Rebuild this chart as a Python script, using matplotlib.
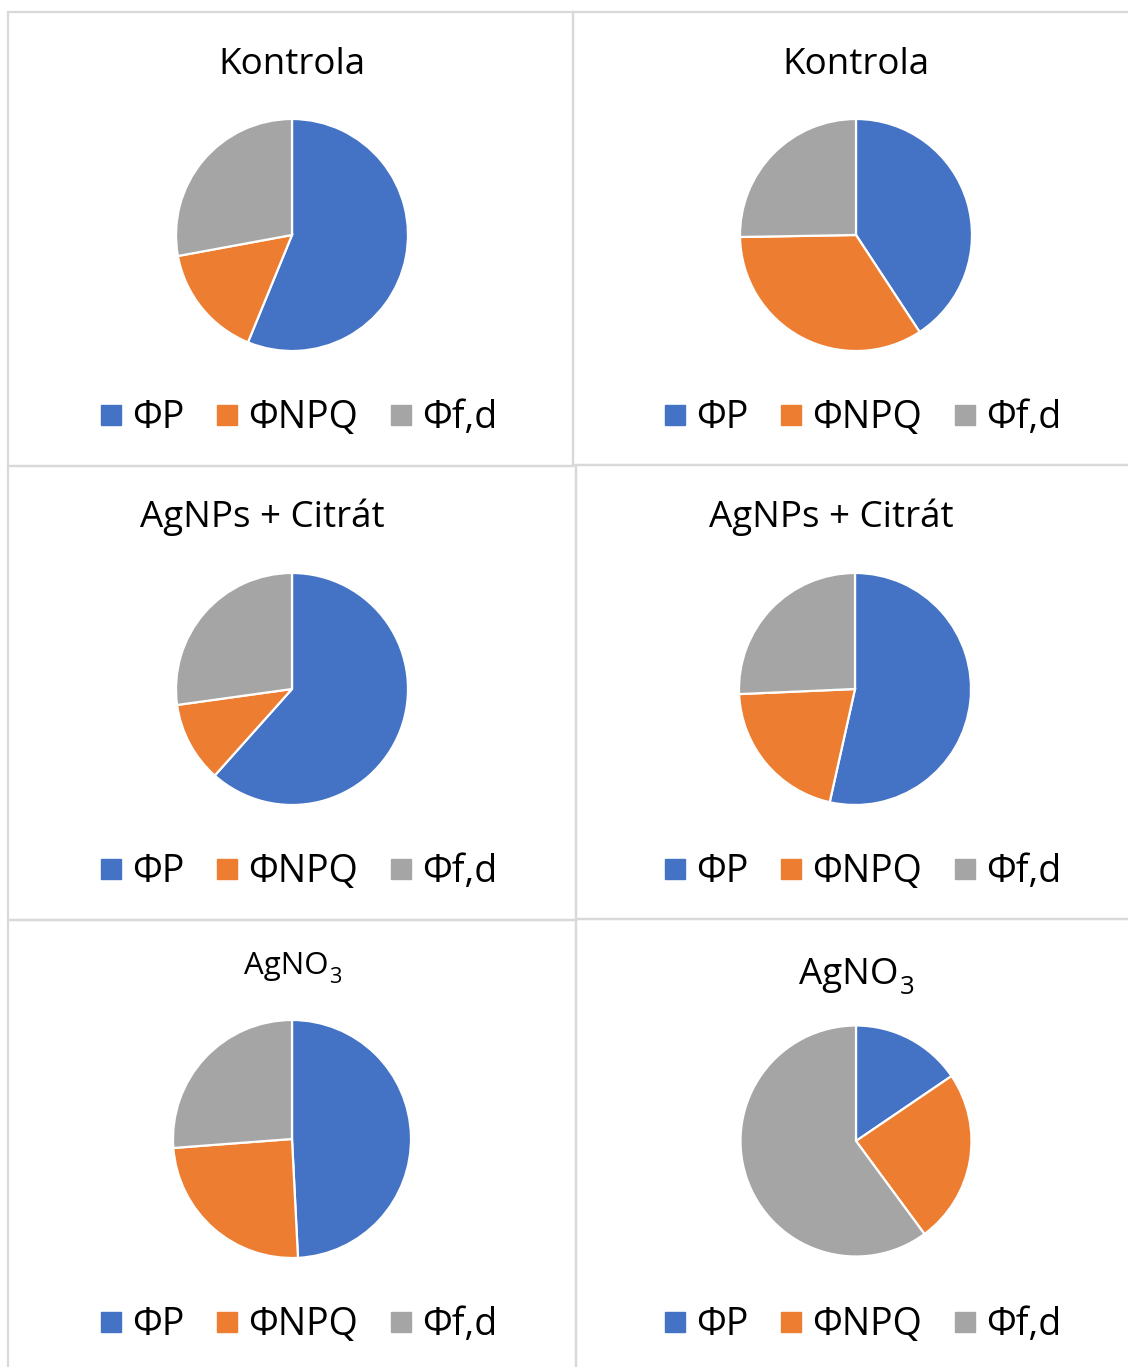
import matplotlib
matplotlib.use("Agg")
import matplotlib.pyplot as plt
from matplotlib.lines import Line2D
from matplotlib.patches import Rectangle

plt.rcParams['font.family'] = ['Open Sans', 'DejaVu Sans']

categories = ['ΦP', 'ΦNPQ', 'Φf,d']
colors = ['#4472C4', '#ED7D31', '#A5A5A5']

# (main text, subscript)
titles = [('Kontrola', ''), ('Kontrola', ''), ('AgNPs + Citrát', ''), ('AgNPs + Citrát', ''),
          ('AgNO', '3'), ('AgNO', '3')]
kontrola_1 = [56.2, 15.9, 27.9]
kontrola_2 = [40.8, 34.0, 25.3]
citrat_1 = [61.6, 11.2, 27.2]
citrat_2 = [53.5, 20.8, 25.7]
agno3_1 = [49.2, 24.6, 26.2]
agno3_2 = [15.5, 24.4, 60.1]
series = [kontrola_1, kontrola_2, citrat_1, citrat_2, agno3_1, agno3_2]

W, H = 1128, 1367
fig = plt.figure(figsize=(W / 100, H / 100), dpi=100)

# panel boxes (x0, y0, x1, y1) in pixels, top-left origin
boxes = [(8, 12, 573, 466), (573, 12, 1140, 465),
         (8, 466, 576, 920), (576, 465, 1140, 919),
         (8, 920, 576, 1380), (576, 919, 1140, 1380)]
for x0, y0, x1, y1 in boxes:
    fig.patches.append(Rectangle((x0 / W, 1 - y1 / H), (x1 - x0) / W, (y1 - y0) / H,
                                 transform=fig.transFigure, fill=False,
                                 edgecolor='#D9D9D9', linewidth=1.6, zorder=0))

# pie centres and radii (pixels)
pies = [(292, 235, 116), (856, 235, 116),
        (292, 689, 116), (855, 689, 116),
        (292, 1139, 119), (856, 1141, 115.5)]
title_pos = [(292, 74, 26.5), (856, 74, 26.5), (262, 527, 26.5), (831, 527, 26.5),
             (292, 974, 22.5), (856, 984, 26.5)]
legend_pos = [(299, 418), (863, 418), (299, 872), (863, 872), (299, 1325), (863, 1325)]

renderer = fig.canvas.get_renderer()

for vals, (cx, cy, r), (tmain, tsub), (tx, ty, tfs), (lx, ly) in zip(series, pies, titles, title_pos, legend_pos):
    ax = fig.add_axes([(cx - r) / W, 1 - (cy + r) / H, 2 * r / W, 2 * r / H])
    ax.pie(vals, colors=colors, startangle=90, counterclock=False, radius=1,
           wedgeprops=dict(edgecolor='white', linewidth=1.6))
    ax.set_xlim(-1, 1)
    ax.set_ylim(-1, 1)
    ax.set_aspect('equal')
    ax.axis('off')
    if tsub:
        subfs = tfs * 0.7
        t1 = fig.text(0, 0, tmain, fontsize=tfs)
        t2 = fig.text(0, 0, tsub, fontsize=subfs)
        w1 = t1.get_window_extent(renderer).width
        w2 = t2.get_window_extent(renderer).width
        total = w1 + w2
        x_start = tx - total / 2
        t1.set_position((x_start / W, 1 - ty / H))
        t1.set_ha('left'); t1.set_va('baseline')
        t2.set_position(((x_start + w1 + 1) / W, 1 - (ty + tfs * 100 / 72 * 0.28) / H))
        t2.set_ha('left'); t2.set_va('baseline')
    else:
        fig.text(tx / W, 1 - ty / H, tmain, ha='center', va='baseline', fontsize=tfs)
    handles = [Line2D([], [], marker='s', linestyle='none', markersize=14,
                      markerfacecolor=c, markeredgecolor=c) for c in colors]
    fig.legend(handles, categories, loc='center', bbox_to_anchor=(lx / W, 1 - ly / H),
               ncol=3, frameon=False, fontsize=27, handlelength=0.55,
               handletextpad=0.3, columnspacing=0.85, borderpad=0)

fig.savefig('out.png', dpi=100, facecolor='white')
